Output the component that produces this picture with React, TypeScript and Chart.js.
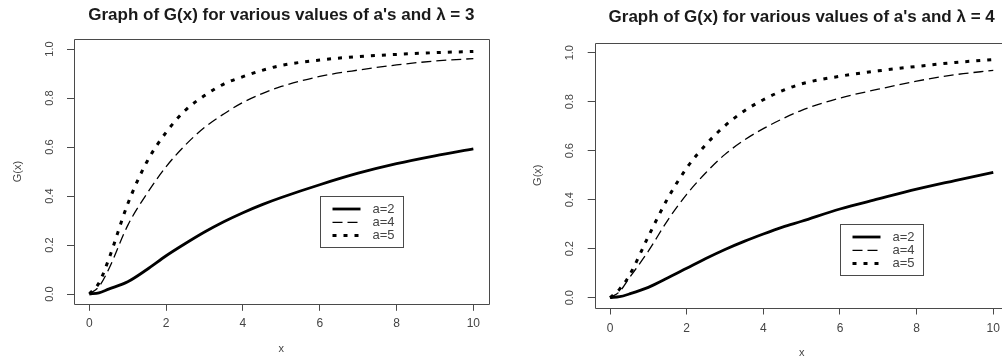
import React, { useEffect, useRef } from "react";
import { Chart, registerables } from "chart.js";

Chart.register(...registerables);

// ---- data ----
const xValues = [0, 0.25, 0.5, 1, 1.5, 2, 2.5, 3, 3.5, 4, 4.5, 5, 6, 7, 8, 9, 10];
const xTicks = [0, 2, 4, 6, 8, 10];
const yTicks = [0, 0.2, 0.4, 0.6, 0.8, 1.0];
const seriesLabels = ["a=2", "a=4", "a=5"];

// lambda = 3
const lam3A2 = [0, 0.005, 0.02, 0.05, 0.1, 0.156, 0.206, 0.253, 0.295, 0.332, 0.365, 0.394, 0.446, 0.493, 0.532, 0.564, 0.592];
const lam3A4 = [0, 0.03, 0.1, 0.28, 0.41, 0.52, 0.608, 0.68, 0.735, 0.782, 0.818, 0.847, 0.888, 0.914, 0.935, 0.951, 0.961];
const lam3A5 = [0, 0.045, 0.14, 0.368, 0.54, 0.66, 0.75, 0.81, 0.857, 0.887, 0.913, 0.933, 0.955, 0.969, 0.978, 0.985, 0.99];

// lambda = 4
const lam4A2 = [0, 0.004, 0.015, 0.042, 0.08, 0.12, 0.16, 0.197, 0.23, 0.26, 0.288, 0.312, 0.362, 0.403, 0.443, 0.478, 0.512];
const lam4A4 = [0, 0.025, 0.08, 0.19, 0.315, 0.422, 0.51, 0.585, 0.643, 0.69, 0.73, 0.765, 0.815, 0.851, 0.884, 0.91, 0.928];
const lam4A5 = [0, 0.035, 0.09, 0.25, 0.404, 0.529, 0.625, 0.702, 0.762, 0.808, 0.845, 0.873, 0.904, 0.926, 0.944, 0.96, 0.972];

const title3 = "Graph of G(x) for various values of a's and \u03bb = 3";
const title4 = "Graph of G(x) for various values of a's and \u03bb = 4";

// ---- styles ----
const FONT = "'Liberation Sans', Arial, Helvetica, sans-serif";
const AXIS = "#4a4a4a";
const TXT = "#444";
const lineStyles = [
  { borderWidth: 2.8, borderDash: [] as number[] },
  { borderWidth: 1.3, borderDash: [10, 5] },
  { borderWidth: 3, borderDash: [4, 7] },
];

const rPlugin = {
  id: "rLegend",
  afterDraw(chart: any, _args: any, opts: any) {
    const { ctx, chartArea: a, scales } = chart;
    ctx.save();
    ctx.strokeStyle = AXIS;
    ctx.lineWidth = 1;
    ctx.setLineDash([]);
    const l = Math.round(a.left) + 0.5;
    const r = Math.round(a.right) + 0.5;
    const t = Math.round(a.top) + 0.5;
    const b = Math.round(a.bottom) + 0.5;
    ctx.beginPath();
    ctx.moveTo(l, t);
    ctx.lineTo(r, t);
    ctx.lineTo(r, b);
    ctx.lineTo(l, b);
    ctx.closePath();
    ctx.stroke();

    const bx = Math.round(scales.x.getPixelForValue(opts.x)) + 0.5;
    const by = Math.round(scales.y.getPixelForValue(opts.y)) + 0.5;
    const w = 83;
    const h = 51;
    ctx.fillStyle = "#fff";
    ctx.fillRect(bx, by, w, h);
    ctx.strokeStyle = AXIS;
    ctx.strokeRect(bx, by, w, h);
    chart.data.datasets.forEach((ds: any, i: number) => {
      const y = by + 12.5 + i * 13.3;
      ctx.beginPath();
      ctx.setLineDash(ds.borderDash || []);
      ctx.lineWidth = ds.borderWidth;
      ctx.strokeStyle = ds.borderColor;
      ctx.lineCap = "butt";
      ctx.moveTo(bx + 12, y);
      ctx.lineTo(bx + 40, y);
      ctx.stroke();
      ctx.setLineDash([]);
      ctx.fillStyle = TXT;
      ctx.font = `13px ${FONT}`;
      ctx.textAlign = "left";
      ctx.textBaseline = "middle";
      ctx.fillText(ds.label, bx + 52, y);
    });
    ctx.restore();
  },
};

type Layout = {
  yAxisW: number;
  xAxisH: number;
  padRight: number;
  titleTop: number;
  titleBottom: number;
  yTickPad: number;
  xTickPad: number;
  yTitleTop: number;
  xTitleBottom: number;
};

function GChart(props: {
  left: number;
  width: number;
  title: string;
  series: number[][];
  legendX: number;
  legendY: number;
  L: Layout;
}) {
  const ref = useRef<HTMLCanvasElement>(null);
  useEffect(() => {
    const { L } = props;
    const chart = new Chart(ref.current as HTMLCanvasElement, {
      type: "line",
      data: {
        datasets: props.series.map((s, i) => ({
          label: seriesLabels[i],
          data: xValues.map((x, j) => ({ x, y: s[j] })),
          borderColor: "#000",
          borderWidth: lineStyles[i].borderWidth,
          borderDash: lineStyles[i].borderDash,
          borderCapStyle: "butt",
          pointRadius: 0,
          fill: false,
          cubicInterpolationMode: "monotone",
        })),
      },
      options: {
        responsive: false,
        animation: false,
        devicePixelRatio: 1,
        events: [],
        layout: { padding: { left: 0, right: L.padRight, top: 0, bottom: 0 } },
        plugins: {
          legend: { display: false },
          tooltip: { enabled: false },
          title: {
            display: true,
            text: props.title,
            fullSize: false,
            color: "#1a1a1a",
            font: { family: FONT, size: 17, weight: "bold", lineHeight: 1.2 },
            padding: { top: L.titleTop, bottom: L.titleBottom },
          },
          rLegend: { x: props.legendX, y: props.legendY },
        } as any,
        scales: {
          x: {
            type: "linear",
            min: -0.4,
            max: 10.4,
            afterBuildTicks: (s: any) => {
              s.ticks = xTicks.map((v) => ({ value: v }));
            },
            afterFit: (s: any) => {
              s.height = L.xAxisH;
            },
            grid: { display: true, drawOnChartArea: false, drawTicks: true, tickLength: 7, color: AXIS, lineWidth: 1 },
            border: { display: false },
            ticks: {
              color: TXT,
              font: { family: FONT, size: 12 },
              padding: L.xTickPad,
              maxRotation: 0,
              autoSkip: false,
              callback: (v: any) => String(v),
            },
            title: {
              display: true,
              text: "x",
              color: TXT,
              font: { family: FONT, size: 11, lineHeight: 1.2 },
              padding: { top: 0, bottom: L.xTitleBottom },
            },
          },
          y: {
            type: "linear",
            min: -0.04,
            max: 1.04,
            afterBuildTicks: (s: any) => {
              s.ticks = yTicks.map((v) => ({ value: v }));
            },
            afterFit: (s: any) => {
              s.width = L.yAxisW;
            },
            grid: { display: true, drawOnChartArea: false, drawTicks: true, tickLength: 7, color: AXIS, lineWidth: 1 },
            border: { display: false },
            ticks: {
              color: TXT,
              font: { family: FONT, size: 11 },
              padding: L.yTickPad,
              minRotation: 90,
              maxRotation: 90,
              crossAlign: "center",
              autoSkip: false,
              callback: (v: any) => Number(v).toFixed(1),
            },
            title: {
              display: true,
              text: "G(x)",
              color: TXT,
              font: { family: FONT, size: 11, lineHeight: 1.2 },
              padding: { top: L.yTitleTop, bottom: 0 },
            },
          },
        },
      } as any,
      plugins: [rPlugin],
    });
    return () => chart.destroy();
  }, []);
  return (
    <canvas
      ref={ref}
      width={props.width}
      height={360}
      style={{ position: "absolute", left: props.left, top: 0, width: props.width, height: 360, display: "block" }}
    />
  );
}

const layoutLeft: Layout = {
  yAxisW: 74,
  xAxisH: 56.2,
  padRight: 11.3,
  titleTop: 4.8,
  titleBottom: 14.0,
  yTickPad: 9.4,
  xTickPad: 5.5,
  yTitleTop: 11.4,
  xTitleBottom: 4.4,
};

const layoutRight: Layout = {
  yAxisW: 94.7,
  xAxisH: 52.5,
  padRight: 11.4,
  titleTop: 6.8,
  titleBottom: 15.7,
  yTickPad: 10.1,
  xTickPad: 6.8,
  yTitleTop: 31.4,
  xTitleBottom: 0.4,
};

export default function App() {
  return (
    <div
      style={{
        position: "fixed",
        left: 0,
        top: 0,
        width: 1002,
        height: 360,
        overflow: "hidden",
        background: "#fff",
      }}
    >
      <GChart left={0} width={500} title={title3} series={[lam3A2, lam3A4, lam3A5]} legendX={6} legendY={0.4} L={layoutLeft} />
      <GChart left={500} width={520} title={title4} series={[lam4A2, lam4A4, lam4A5]} legendX={6} legendY={0.3} L={layoutRight} />
    </div>
  );
}
